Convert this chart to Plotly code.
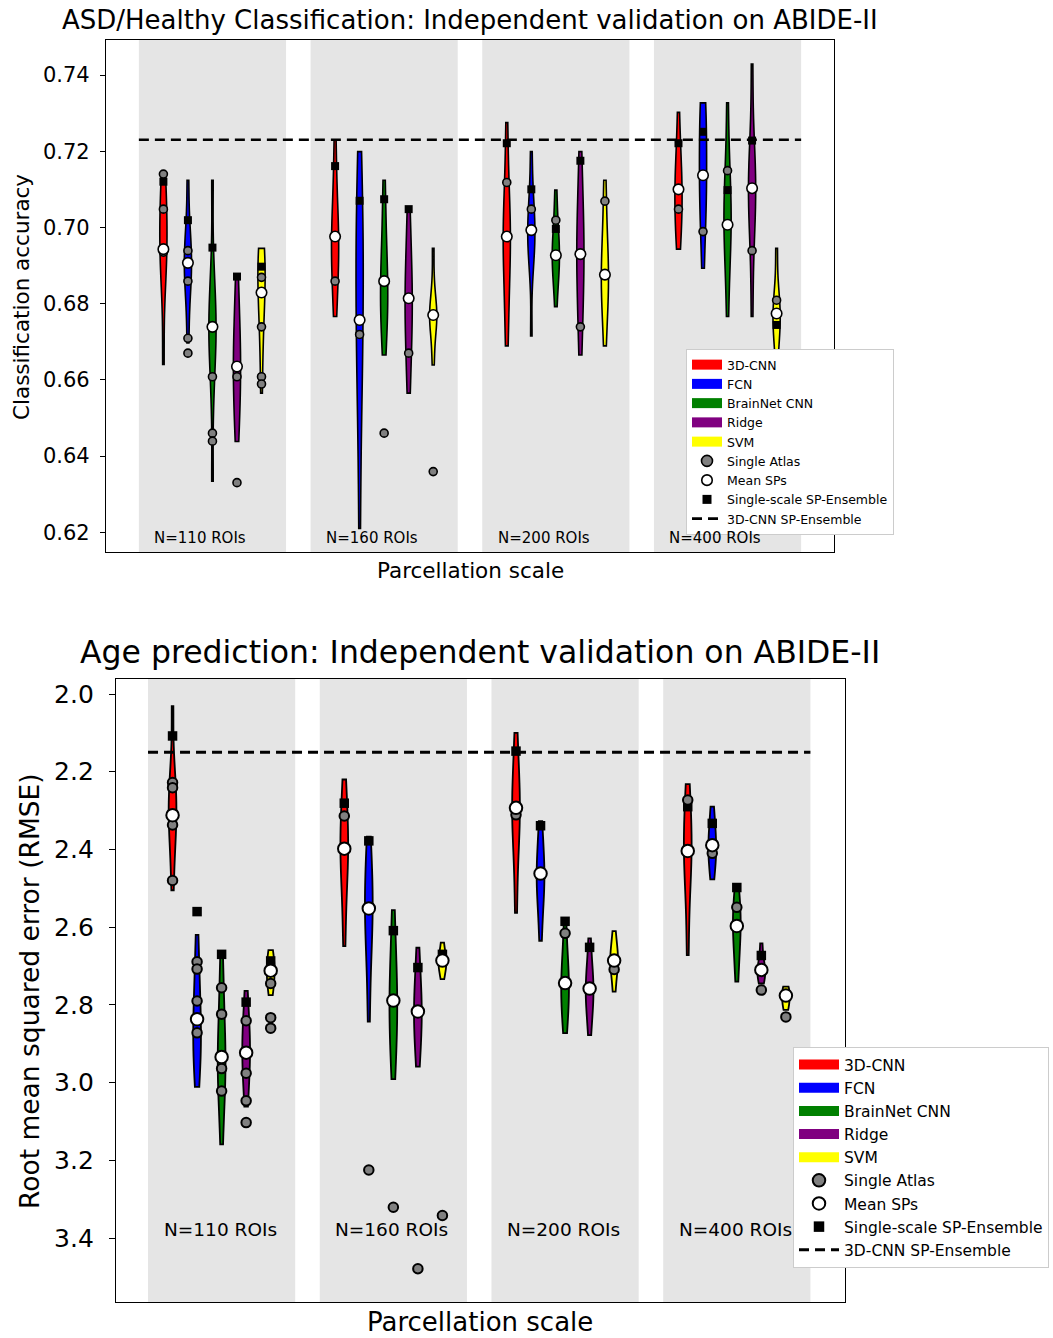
import plotly.graph_objects as go

W, H = 1053, 1338
FONT = "DejaVu Sans"

methods = ["3D-CNN", "FCN", "BrainNet CNN", "Ridge", "SVM"]
colors = ["#ff0000", "#0000ff", "#008000", "#800080", "#ffff00"]
scale_labels = ["N=110 ROIs", "N=160 ROIs", "N=200 ROIs", "N=400 ROIs"]

# ---------------- ASD classification (accuracy) ----------------
# SP results per method (3D-CNN, FCN, BrainNet CNN, Ridge, SVM), one block per scale
acc_sp_110 = [
    [0.7135, 0.710, 0.705, 0.700, 0.697, 0.694, 0.690, 0.685, 0.664],
    [0.7124, 0.700, 0.696, 0.693, 0.690, 0.688, 0.686, 0.680, 0.6697],
    [0.7124, 0.690, 0.682, 0.678, 0.675, 0.672, 0.668, 0.665, 0.655, 0.6334],
    [0.6871, 0.678, 0.672, 0.668, 0.664, 0.660, 0.656, 0.651, 0.6438],
    [0.6945, 0.6940, 0.692, 0.689, 0.686, 0.683, 0.680, 0.675, 0.668, 0.6565],
]
acc_sp_160 = [
    [0.7229, 0.712, 0.705, 0.700, 0.697, 0.695, 0.692, 0.688, 0.683, 0.6766],
    [0.7199, 0.708, 0.700, 0.698, 0.690, 0.682, 0.675, 0.668, 0.660, 0.648, 0.621],
    [0.7124, 0.703, 0.695, 0.690, 0.686, 0.683, 0.680, 0.677, 0.673, 0.6665],
    [0.7048, 0.697, 0.690, 0.685, 0.682, 0.679, 0.675, 0.670, 0.664, 0.6565],
    [0.6945, 0.685, 0.680, 0.678, 0.677, 0.676, 0.674, 0.670, 0.6639],
]
acc_sp_200 = [
    [0.7275, 0.715, 0.707, 0.702, 0.699, 0.697, 0.694, 0.690, 0.684, 0.676, 0.6689],
    [0.7199, 0.710, 0.705, 0.702, 0.700, 0.698, 0.695, 0.693, 0.688, 0.6715],
    [0.7098, 0.702, 0.698, 0.695, 0.693, 0.691, 0.689, 0.686, 0.6792],
    [0.7199, 0.712, 0.705, 0.700, 0.696, 0.693, 0.690, 0.686, 0.680, 0.674, 0.6665],
    [0.7124, 0.703, 0.695, 0.691, 0.688, 0.685, 0.682, 0.678, 0.6689],
]
acc_sp_400 = [
    [0.7302, 0.721, 0.717, 0.713, 0.710, 0.708, 0.705, 0.702, 0.698, 0.6943],
    [0.7327, 0.7320, 0.728, 0.722, 0.717, 0.713, 0.709, 0.705, 0.700, 0.6893],
    [0.7327, 0.718, 0.712, 0.708, 0.704, 0.701, 0.698, 0.694, 0.688, 0.6766],
    [0.7429, 0.725, 0.718, 0.714, 0.711, 0.708, 0.705, 0.700, 0.692, 0.6766],
    [0.6945, 0.684, 0.680, 0.678, 0.676, 0.674, 0.671, 0.6662],
]
acc_single_110 = [[0.7140, 0.7048, 0.6935], [0.6939, 0.6859, 0.6709, 0.6670],
                  [0.6608, 0.6460, 0.6439], [0.6608, 0.6330], [0.6869, 0.6739, 0.6608, 0.6589]]
acc_single_160 = [[0.6859], [0.6719], [0.6460], [0.6670], [0.6359]]
acc_single_200 = [[0.7118], [0.7048], [0.7019], [0.6739], [0.7069]]
acc_single_400 = [[0.7048], [0.6989], [0.7149], [0.6939], [0.6809]]
acc_mean_110 = [0.6943, 0.6907, 0.6739, 0.6635, 0.6829]
acc_mean_160 = [0.6976, 0.6757, 0.6859, 0.6814, 0.6770]
acc_mean_200 = [0.6976, 0.6993, 0.6927, 0.6930, 0.6876]
acc_mean_400 = [0.7100, 0.7137, 0.7007, 0.7103, 0.6774]
acc_ens_110 = [0.7120, 0.7019, 0.6947, 0.6871, 0.6897]
acc_ens_160 = [0.7161, 0.7070, 0.7074, 0.7048, None]
acc_ens_200 = [0.7221, 0.7100, 0.6996, 0.7175, None]
acc_ens_400 = [0.7221, 0.7251, 0.7098, 0.7228, 0.6744]
acc_cnn_sp_ensemble = 0.7230
acc_ticks = [0.62, 0.64, 0.66, 0.68, 0.70, 0.72, 0.74]

# ---------------- Age prediction (RMSE) ----------------
rmse_sp_110 = [
    [2.031, 2.18, 2.24, 2.25, 2.29, 2.31, 2.34, 2.37, 2.42, 2.505],
    [2.620, 2.70, 2.76, 2.80, 2.84, 2.87, 2.90, 2.93, 2.96, 3.011],
    [2.675, 2.76, 2.83, 2.88, 2.92, 2.95, 2.98, 3.01, 3.06, 3.159],
    [2.764, 2.83, 2.86, 2.89, 2.92, 2.94, 2.97, 3.01, 3.062],
    [2.659, 2.68, 2.70, 2.715, 2.73, 2.75, 2.775],
]
rmse_sp_160 = [
    [2.220, 2.28, 2.32, 2.36, 2.39, 2.41, 2.44, 2.48, 2.55, 2.649],
    [2.367, 2.42, 2.47, 2.51, 2.54, 2.57, 2.60, 2.65, 2.72, 2.843],
    [2.556, 2.64, 2.70, 2.74, 2.78, 2.81, 2.84, 2.88, 2.93, 2.991],
    [2.653, 2.72, 2.76, 2.79, 2.82, 2.84, 2.87, 2.91, 2.959],
    [2.640, 2.665, 2.68, 2.69, 2.70, 2.71, 2.734],
]
rmse_sp_200 = [
    [2.100, 2.17, 2.22, 2.26, 2.29, 2.31, 2.34, 2.38, 2.45, 2.563],
    [2.327, 2.38, 2.42, 2.45, 2.47, 2.49, 2.52, 2.56, 2.635],
    [2.585, 2.66, 2.70, 2.73, 2.75, 2.77, 2.80, 2.83, 2.873],
    [2.629, 2.69, 2.72, 2.745, 2.76, 2.78, 2.80, 2.83, 2.878],
    [2.610, 2.65, 2.67, 2.685, 2.70, 2.72, 2.766],
]
rmse_sp_400 = [
    [2.232, 2.28, 2.32, 2.36, 2.39, 2.41, 2.44, 2.48, 2.55, 2.672],
    [2.290, 2.33, 2.36, 2.38, 2.40, 2.42, 2.44, 2.477],
    [2.498, 2.53, 2.56, 2.58, 2.60, 2.62, 2.65, 2.69, 2.740],
    [2.642, 2.68, 2.70, 2.71, 2.72, 2.73, 2.745],
    [2.753, 2.765, 2.775, 2.785, 2.80, 2.813],
]
rmse_single_110 = [[2.228, 2.241, 2.337, 2.480], [2.689, 2.708, 2.790, 2.872],
                   [2.756, 2.824, 2.964, 3.022], [2.841, 2.976, 3.047, 3.103],
                   [2.745, 2.833, 2.860]]
rmse_single_160 = [[2.314], [3.225], [3.321], [3.479], [3.342]]
rmse_single_200 = [[2.311], [], [2.616], [], [2.709]]
rmse_single_400 = [[2.273], [2.410], [2.549], [2.762], [2.831]]
rmse_mean_110 = [2.312, 2.837, 2.934, 2.923, 2.712]
rmse_mean_160 = [2.398, 2.552, 2.789, 2.817, 2.686]
rmse_mean_200 = [2.293, 2.462, 2.744, 2.758, 2.686]
rmse_mean_400 = [2.404, 2.389, 2.597, 2.710, 2.776]
rmse_ens_110 = [2.108, 2.560, 2.670, 2.793, 2.687]
rmse_ens_160 = [2.281, 2.378, 2.609, 2.704, 2.670]
rmse_ens_200 = [2.147, 2.339, 2.585, 2.652, None]
rmse_ens_400 = [2.290, 2.333, 2.498, 2.673, None]
rmse_cnn_sp_ensemble = 2.150
rmse_ticks = [2.0, 2.2, 2.4, 2.6, 2.8, 3.0, 3.2, 3.4]

BAND = 3 / 7.0


def pos(i, j):
    return i + (j - 2) / 7.0


fig = go.Figure()

charts = [
    dict(xa="x", ya="y", leg="legend",
         sp=[acc_sp_110, acc_sp_160, acc_sp_200, acc_sp_400],
         single=[acc_single_110, acc_single_160, acc_single_200, acc_single_400],
         mean=[acc_mean_110, acc_mean_160, acc_mean_200, acc_mean_400],
         ens=[acc_ens_110, acc_ens_160, acc_ens_200, acc_ens_400],
         ref=acc_cnn_sp_ensemble,
         vw=0.042, vlw=1.6, gs=8, ws=10.5, ss=8, mlw=1.6, dlw=2.6),
    dict(xa="x2", ya="y2", leg="legend2",
         sp=[rmse_sp_110, rmse_sp_160, rmse_sp_200, rmse_sp_400],
         single=[rmse_single_110, rmse_single_160, rmse_single_200, rmse_single_400],
         mean=[rmse_mean_110, rmse_mean_160, rmse_mean_200, rmse_mean_400],
         ens=[rmse_ens_110, rmse_ens_160, rmse_ens_200, rmse_ens_400],
         ref=rmse_cnn_sp_ensemble,
         vw=0.045, vlw=1.8, gs=9.5, ws=12.5, ss=9.5, mlw=2, dlw=3),
]

for c in charts:
    # violins
    for i in range(4):
        for j in range(5):
            s = c["sp"][i][j]
            fig.add_trace(go.Violin(
                x=[pos(i, j)] * len(s), y=s, xaxis=c["xa"], yaxis=c["ya"],
                fillcolor=colors[j], line=dict(color="black", width=c["vlw"]),
                width=c["vw"], spanmode="hard", points=False, scalemode="width",
                box_visible=False, meanline_visible=False, opacity=1,
                showlegend=False, hoverinfo="skip"))
    # dashed 3D-CNN SP-Ensemble line
    fig.add_trace(go.Scatter(
        x=[-BAND, 3 + BAND], y=[c["ref"], c["ref"]], xaxis=c["xa"], yaxis=c["ya"],
        mode="lines", line=dict(color="black", width=c["dlw"], dash="10px,6px"),
        showlegend=False, hoverinfo="skip"))
    # ensemble squares
    ex, ey = [], []
    for i in range(4):
        for j in range(5):
            v = c["ens"][i][j]
            if v is not None:
                ex.append(pos(i, j)); ey.append(v)
    fig.add_trace(go.Scatter(
        x=ex, y=ey, xaxis=c["xa"], yaxis=c["ya"], mode="markers",
        marker=dict(symbol="square", size=c["ss"], color="black", line=dict(width=0)),
        showlegend=False, hoverinfo="skip"))
    # single atlas gray dots
    gx, gy = [], []
    for i in range(4):
        for j in range(5):
            for v in c["single"][i][j]:
                gx.append(pos(i, j)); gy.append(v)
    fig.add_trace(go.Scatter(
        x=gx, y=gy, xaxis=c["xa"], yaxis=c["ya"], mode="markers",
        marker=dict(symbol="circle", size=c["gs"], color="#808080",
                    line=dict(color="black", width=c["mlw"])),
        showlegend=False, hoverinfo="skip"))
    # mean SPs white dots
    mx, my = [], []
    for i in range(4):
        for j in range(5):
            mx.append(pos(i, j)); my.append(c["mean"][i][j])
    fig.add_trace(go.Scatter(
        x=mx, y=my, xaxis=c["xa"], yaxis=c["ya"], mode="markers",
        marker=dict(symbol="circle", size=c["ws"], color="white",
                    line=dict(color="black", width=c["mlw"])),
        showlegend=False, hoverinfo="skip"))
    # legend entries
    for j in range(5):
        fig.add_trace(go.Scatter(
            x=[None], y=[None], xaxis=c["xa"], yaxis=c["ya"], mode="lines",
            line=dict(color=colors[j], width=10), name=methods[j], legend=c["leg"]))
    fig.add_trace(go.Scatter(
        x=[None], y=[None], xaxis=c["xa"], yaxis=c["ya"], mode="markers",
        marker=dict(symbol="circle", size=c["gs"] + 3, color="#808080",
                    line=dict(color="black", width=c["mlw"])),
        name="Single Atlas", legend=c["leg"]))
    fig.add_trace(go.Scatter(
        x=[None], y=[None], xaxis=c["xa"], yaxis=c["ya"], mode="markers",
        marker=dict(symbol="circle", size=c["ws"], color="white",
                    line=dict(color="black", width=c["mlw"])),
        name="Mean SPs", legend=c["leg"]))
    fig.add_trace(go.Scatter(
        x=[None], y=[None], xaxis=c["xa"], yaxis=c["ya"], mode="markers",
        marker=dict(symbol="square", size=c["ss"] + 1, color="black"),
        name="Single-scale SP-Ensemble", legend=c["leg"]))
    fig.add_trace(go.Scatter(
        x=[None], y=[None], xaxis=c["xa"], yaxis=c["ya"], mode="lines",
        line=dict(color="black", width=c["dlw"], dash="10px,6px"),
        name="3D-CNN SP-Ensemble", legend=c["leg"]))

# gray bands
shapes = []
for xa, ya in [("x", "y"), ("x2", "y2")]:
    for i in range(4):
        shapes.append(dict(type="rect", xref=xa, yref=ya + " domain",
                           x0=i - BAND, x1=i + BAND, y0=0, y1=1,
                           fillcolor="#e5e5e5", line=dict(width=0), layer="below"))

annotations = []
for i, lab in enumerate(scale_labels):
    annotations.append(dict(x=i - 0.35, y=0.6185, xref="x", yref="y", text=lab,
                            showarrow=False, xanchor="left", yanchor="middle",
                            font=dict(size=15, family=FONT, color="black")))
    annotations.append(dict(x=i - 0.35, y=3.377, xref="x2", yref="y2", text=lab,
                            showarrow=False, xanchor="left", yanchor="middle",
                            font=dict(size=18.5, family=FONT, color="black")))


def pa(text, px, py, size, angle=0):
    return dict(x=px / W, y=1 - py / H, xref="paper", yref="paper", text=text,
                showarrow=False, xanchor="center", yanchor="middle", textangle=angle,
                font=dict(size=size, family=FONT, color="black"))


annotations += [
    pa("ASD/Healthy Classification: Independent validation on ABIDE-II", 470, 20, 26),
    pa("Parcellation scale", 470, 570, 21.5),
    pa("Classification accuracy", 22, 297, 21.5, -90),
    pa("Age prediction: Independent validation on ABIDE-II", 480, 652, 31.5),
    pa("Parcellation scale", 480, 1322, 26),
    pa("Root mean squared error (RMSE)", 30, 991, 26.5, -90),
]

axis_common = dict(showgrid=False, zeroline=False, showline=True, linecolor="black",
                   linewidth=1.3, mirror=True)

fig.update_layout(
    width=W, height=H, autosize=False,
    margin=dict(l=0, r=0, t=0, b=0, pad=0, autoexpand=False),
    paper_bgcolor="white", plot_bgcolor="white",
    font=dict(family=FONT, color="black"),
    violinmode="overlay",
    showlegend=True,
    xaxis=dict(domain=[106 / W, 834 / W], range=[-0.62, 3.62], anchor="y",
               showticklabels=False, ticks="", **axis_common),
    yaxis=dict(domain=[1 - 552 / H, 1 - 40 / H], range=[0.6148, 0.7492], anchor="x",
               tickvals=acc_ticks, ticktext=["%.2f" % t for t in acc_ticks],
               ticks="outside", ticklen=5, tickwidth=1.2, tickcolor="black",
               ticklabelstandoff=6,
               tickfont=dict(size=21, family=FONT, color="black"), **axis_common),
    xaxis2=dict(domain=[116 / W, 845 / W], range=[-0.615, 3.63], anchor="y2",
                showticklabels=False, ticks="", **axis_common),
    yaxis2=dict(domain=[1 - 1302 / H, 1 - 679 / H], range=[3.5647, 1.9614], anchor="x2",
                tickvals=rmse_ticks, ticktext=["%.1f" % t for t in rmse_ticks],
                ticks="outside", ticklen=6, tickwidth=1.3, tickcolor="black",
                ticklabelstandoff=10,
                tickfont=dict(size=25, family=FONT, color="black"), **axis_common),
    legend=dict(x=686 / W, y=1 - 349 / H, xanchor="left", yanchor="top",
                bgcolor="white", bordercolor="#cccccc", borderwidth=1,
                font=dict(size=12.5, family=FONT, color="black"), tracegroupgap=0),
    legend2=dict(x=793 / W, y=1 - 1047 / H, xanchor="left", yanchor="top",
                 bgcolor="white", bordercolor="#cccccc", borderwidth=1, itemwidth=40,
                 font=dict(size=15.5, family=FONT, color="black"), tracegroupgap=0),
    shapes=shapes,
    annotations=annotations,
)

fig.write_html("out.html", config={"displayModeBar": False},
               post_script="document.body.style.margin='0px';")
